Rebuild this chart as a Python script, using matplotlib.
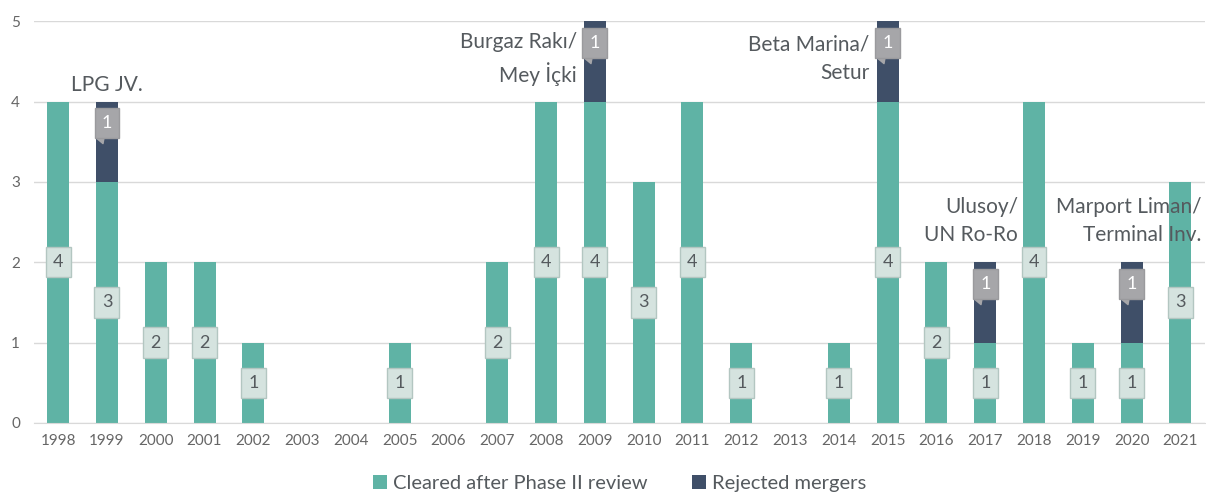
import matplotlib
matplotlib.use('Agg')
import matplotlib.pyplot as plt
import numpy as np

# Дані
years = [str(y) for y in range(1998, 2022)]
cleared = [4, 3, 2, 2, 1, 0, 0, 1, 0, 2, 4, 4, 3, 4, 1, 0, 1, 4, 2, 1, 4, 1, 1, 3]
rejected = [0, 1, 0, 0, 0, 0, 0, 0, 0, 0, 0, 1, 0, 0, 0, 0, 0, 1, 0, 1, 0, 0, 1, 0]
notes = {
    '1999': 'LPG JV.',
    '2009': 'Burgaz Rakı/\nMey İçki',
    '2015': 'Beta Marina/\nSetur',
    '2017': 'Ulusoy/\nUN Ro-Ro',
    '2020': 'Marport Liman/\nTerminal Inv.',
}
legend_labels = ['Cleared after Phase II review', 'Rejected mergers']

green = '#5fb3a5'
navy = '#3f4f68'
text_grey = '#555a5e'

plt.rcParams['font.family'] = ['Lato', 'DejaVu Sans']

fig = plt.figure(figsize=(12.06, 4.93), dpi=100)
ax = fig.add_axes([0.028, 0.142, 0.971, 0.815])

x = np.arange(len(years))
cleared = np.array(cleared)
rejected = np.array(rejected)
w = 0.45

ax.bar(x, cleared, w, color=green, label=legend_labels[0], zorder=2)
ax.bar(x, rejected, w, bottom=cleared, color=navy, label=legend_labels[1], zorder=2)

# Підписи значень
for i in x:
    if cleared[i] > 0:
        ax.text(i, cleared[i] / 2, str(cleared[i]), ha='center', va='center',
                fontsize=13, color=text_grey, zorder=4,
                bbox=dict(boxstyle='square,pad=0.4', fc='#d5e3df', ec='#b3c6c1', lw=1))
    if rejected[i] > 0:
        yl = cleared[i] + rejected[i] * 0.73
        ax.text(i, yl, str(rejected[i]), ha='center', va='center',
                fontsize=13, color='white', zorder=4,
                bbox=dict(boxstyle='square,pad=0.4', fc='#a6a6a9', ec='#9a9a9d', lw=1))
        ax.scatter(i - 0.12, yl - 0.2, marker=(3, 0, 200), s=40, color='#a6a6a9', zorder=3)

# Анотації
for yr, txt in notes.items():
    i = years.index(yr)
    top = cleared[i] + rejected[i]
    if txt == 'LPG JV.':
        ax.text(i, top + 0.2, txt, ha='center', va='center', fontsize=15, color=text_grey)
    elif top >= 5:
        ax.text(i - 0.37, top - 0.47, txt, ha='right', va='center', fontsize=15,
                color=text_grey, linespacing=1.5)
    elif yr == '2017':
        ax.text(i + 0.67, top + 0.51, txt, ha='right', va='center', fontsize=15,
                color=text_grey, linespacing=1.5, zorder=5)
    else:
        ax.text(i + 1.43, top + 0.51, txt, ha='right', va='center', fontsize=15,
                color=text_grey, linespacing=1.5, zorder=5)

ax.set_xlim(-0.5, len(years) - 0.5)
ax.set_ylim(0, 5)
ax.set_xticks(x)
ax.set_xticklabels(years)
ax.set_yticks(range(6))
ax.tick_params(length=0, labelsize=11, colors='#666666', pad=8)
ax.tick_params(axis='y', pad=10)
ax.grid(axis='y', color='#d9d9d9', lw=1, zorder=0)
for s in ['top', 'right', 'left']:
    ax.spines[s].set_visible(False)
ax.spines['bottom'].set_color('#d9d9d9')

ax.legend(loc='upper center', bbox_to_anchor=(0.5, -0.085), ncol=2, frameon=False,
          fontsize=14.5, handlelength=0.7, handleheight=0.7, handletextpad=0.3,
          columnspacing=2.2, labelcolor=text_grey)

fig.savefig('out.png', dpi=100)
